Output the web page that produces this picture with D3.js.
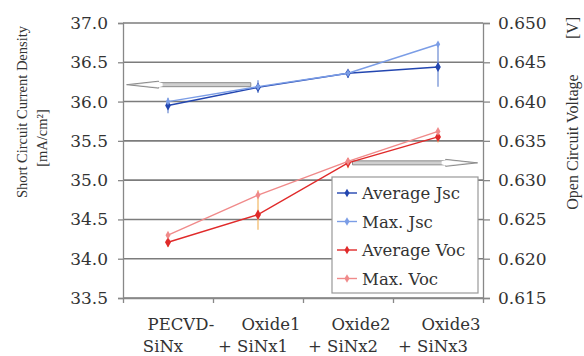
<!DOCTYPE html>
<html>
<head>
<meta charset="utf-8">
<script src="https://cdn.jsdelivr.net/npm/d3@7"></script>
<style>
  body { margin:0; background:#fff; }
  svg text { font-family: "DejaVu Serif", "Liberation Serif", serif; fill:#333; }
</style>
</head>
<body>
<div id="chart"></div>
<script>
const categories = [["PECVD-","SiNx"],["Oxide1","+ SiNx1"],["Oxide2","+ SiNx2"],["Oxide3","+ SiNx3"]]
const leftTicks  = [33.5,34.0,34.5,35.0,35.5,36.0,36.5,37.0]
const rightTicks = [0.615,0.620,0.625,0.630,0.635,0.640,0.645,0.650]

const avgJsc    = [35.95, 36.18, 36.36, 36.44]
const avgJscErr = [[35.85,36.05],[36.11,36.27],[36.30,36.40],[36.19,36.75]]
const maxJsc    = [36.00, 36.19, 36.36, 36.73]
const avgVoc    = [0.6221, 0.6256, 0.6322, 0.6355]
const avgVocErr = [[0.6215,0.6230],[0.6237,0.6287],[0.6315,0.6328],[0.6348,0.6365]]
const maxVoc    = [0.6230, 0.6281, 0.6324, 0.6362]

const legendNames = ["Average Jsc","Max. Jsc","Average Voc","Max. Voc"]

const margin = {top:23, right:101, bottom:58, left:123},
      width  = 584 - margin.left - margin.right,
      height = 356 - margin.top - margin.bottom

const x  = d3.scaleBand().domain(d3.range(categories.length)).range([0, width])
const xi = d3.scaleLinear().domain([-0.5, 3.5]).range([0, width])
const y  = d3.scaleLinear().domain([33.5, 37.0]).range([height, 0])
const y2 = d3.scaleLinear().domain([0.615, 0.650]).range([height, 0])
const cx = i => x(i) + x.bandwidth() / 2

const svg = d3.select("#chart")
  .append("svg")
    .attr("width", 584)
    .attr("height", 356)
  .append("g")
    .attr("transform", "translate(" + margin.left + "," + margin.top + ")")

// gridlines
svg.selectAll(null)
  .data(leftTicks)
  .enter()
  .append("line")
    .attr("x1", 0).attr("x2", width)
    .attr("y1", d => y(d)).attr("y2", d => y(d))
    .style("stroke", "#7c7c7c")
    .style("stroke-width", 1.6)

// left axis
const gY = svg.append("g")
  .call(d3.axisLeft(y).tickValues(leftTicks).tickFormat(d3.format(".1f")).tickSize(5).tickPadding(10))
gY.selectAll("text").style("font-size", "17px").attr("fill", "#444")
gY.selectAll("line, path").style("stroke", "#888").style("stroke-width", 1.3)

// right axis
const gY2 = svg.append("g")
  .attr("transform", "translate(" + width + ",0)")
  .call(d3.axisRight(y2).tickValues(rightTicks).tickFormat(d3.format(".3f")).tickSize(7).tickPadding(8))
gY2.selectAll("text").style("font-size", "17px").attr("fill", "#444")
gY2.selectAll("line, path").style("stroke", "#888").style("stroke-width", 1.3)

// bottom axis
const gX = svg.append("g")
  .attr("transform", "translate(0," + height + ")")
  .call(d3.axisBottom(xi).tickValues([-0.5, 0.5, 1.5, 2.5, 3.5]).tickFormat("").tickSize(5).tickSizeOuter(0))
gX.selectAll("line, path").style("stroke", "#888").style("stroke-width", 1.3)

const labels = svg.selectAll(null)
  .data(categories)
  .enter()
  .append("text")
    .attr("text-anchor", "middle")
    .style("font-size", "16.5px")
    .attr("fill", "#444")
labels.append("tspan")
  .attr("x", (d, i) => cx(i) + 13)
  .attr("y", height + 32)
  .text(d => d[0])
labels.append("tspan")
  .attr("x", (d, i) => cx(i) - 5)
  .attr("y", height + 54)
  .text(d => d[1])

// axis titles
svg.append("text")
  .attr("transform", "rotate(-90)")
  .attr("text-anchor", "middle")
  .attr("x", -(112 - margin.top))
  .attr("y", 27 - margin.left)
  .style("font-family", "Liberation Serif")
  .style("font-size", "14.5px")
  .attr("fill", "#444")
  .text("Short Circuit Current Density")
svg.append("text")
  .attr("transform", "rotate(-90)")
  .attr("text-anchor", "middle")
  .attr("x", -(138 - margin.top))
  .attr("y", 47 - margin.left)
  .style("font-family", "Liberation Serif")
  .style("font-size", "14.5px")
  .attr("fill", "#444")
  .text("[mA/cm²]")
svg.append("text")
  .attr("transform", "rotate(-90)")
  .attr("text-anchor", "middle")
  .attr("x", -(142 - margin.top))
  .attr("y", 578 - margin.left)
  .style("font-family", "Liberation Serif")
  .style("font-size", "16px")
  .attr("fill", "#444")
  .text("Open Circuit Voltage")
svg.append("text")
  .attr("transform", "rotate(-90)")
  .attr("text-anchor", "middle")
  .attr("x", -(28 - margin.top))
  .attr("y", 578 - margin.left)
  .style("font-family", "Liberation Serif")
  .style("font-size", "16px")
  .attr("fill", "#444")
  .text("[V]")

// block arrows pointing to axes
const arrows = [
  {scale: y,  value: 36.215, from: 0.92, to: -0.46},
  {scale: y2, value: 0.6322, from: 2.05, to: 3.44}
]
arrows.forEach(a => {
  const yy = a.scale(a.value), x0 = xi(a.from), x1 = xi(a.to)
  const dir = Math.sign(x1 - x0), hx = x1 - dir * 32
  svg.append("path")
    .attr("d", d3.line()([[x0, yy - 2], [hx, yy - 2], [hx, yy - 3.5], [x1, yy],
                          [hx, yy + 3.5], [hx, yy + 2], [x0, yy + 2]]) + "Z")
    .style("fill", "#cfcfcf")
    .style("stroke", "#8c8c8c")
    .style("stroke-width", 1)
  svg.append("path")
    .attr("d", d3.line()([[hx - dir * 4, yy - 1.5], [hx, yy - 2.6], [x1 - dir * 9, yy], [hx, yy + 2.6], [hx - dir * 4, yy + 1.5]]) + "Z")
    .style("fill", "#fff")
})

const series = [
  {vals: avgJsc, sc: y,  color: "#2346b0", err: avgJscErr, errColor: "#7f9ad8", r: 3.4},
  {vals: maxJsc, sc: y,  color: "#7b9de6", err: null, r: 2.6},
  {vals: avgVoc, sc: y2, color: "#e02a2a", err: avgVocErr, errColor: "#f4c27a", r: 3.6},
  {vals: maxVoc, sc: y2, color: "#f08a8a", err: null, r: 3.0}
]

series.forEach(s => {
  if (s.err) {
    svg.selectAll(null)
      .data(s.err)
      .enter()
      .append("line")
        .attr("x1", (d, i) => cx(i)).attr("x2", (d, i) => cx(i))
        .attr("y1", d => s.sc(d[0])).attr("y2", d => s.sc(d[1]))
        .style("stroke", s.errColor)
        .style("stroke-width", 1.4)
  }
  svg.append("path")
    .datum(s.vals)
    .attr("d", d3.line().x((d, i) => cx(i)).y(d => s.sc(d)))
    .style("fill", "none")
    .style("stroke", s.color)
    .style("stroke-width", 1.4)
  svg.selectAll(null)
    .data(s.vals)
    .enter()
    .append("path")
      .attr("transform", (d, i) => "translate(" + cx(i) + "," + s.sc(d) + ")")
      .attr("d", d3.symbol(d3.symbolDiamond, s.r * s.r * 2.4))
      .style("fill", s.color)
})

// legend
const lg = svg.append("g")
  .attr("transform", "translate(" + (332 - margin.left) + "," + (177 - margin.top) + ")")
lg.append("rect")
  .attr("width", 146).attr("height", 116)
  .style("fill", "#fff")
  .style("stroke", "#999")
  .style("stroke-width", 1.2)
legendNames.forEach((name, i) => {
  const row = lg.append("g").attr("transform", "translate(0," + (16 + i * 28.5) + ")")
  row.append("line")
    .attr("x1", 5).attr("x2", 25)
    .style("stroke", series[i].color).style("stroke-width", 1.4)
  row.append("path")
    .attr("transform", "translate(15,0)")
    .attr("d", d3.symbol(d3.symbolDiamond, 22))
    .style("fill", series[i].color)
  row.append("text")
    .attr("x", 30).attr("y", 6)
    .style("font-size", "16.5px")
    .attr("fill", "#444")
    .text(name)
})
</script>
</body>
</html>
